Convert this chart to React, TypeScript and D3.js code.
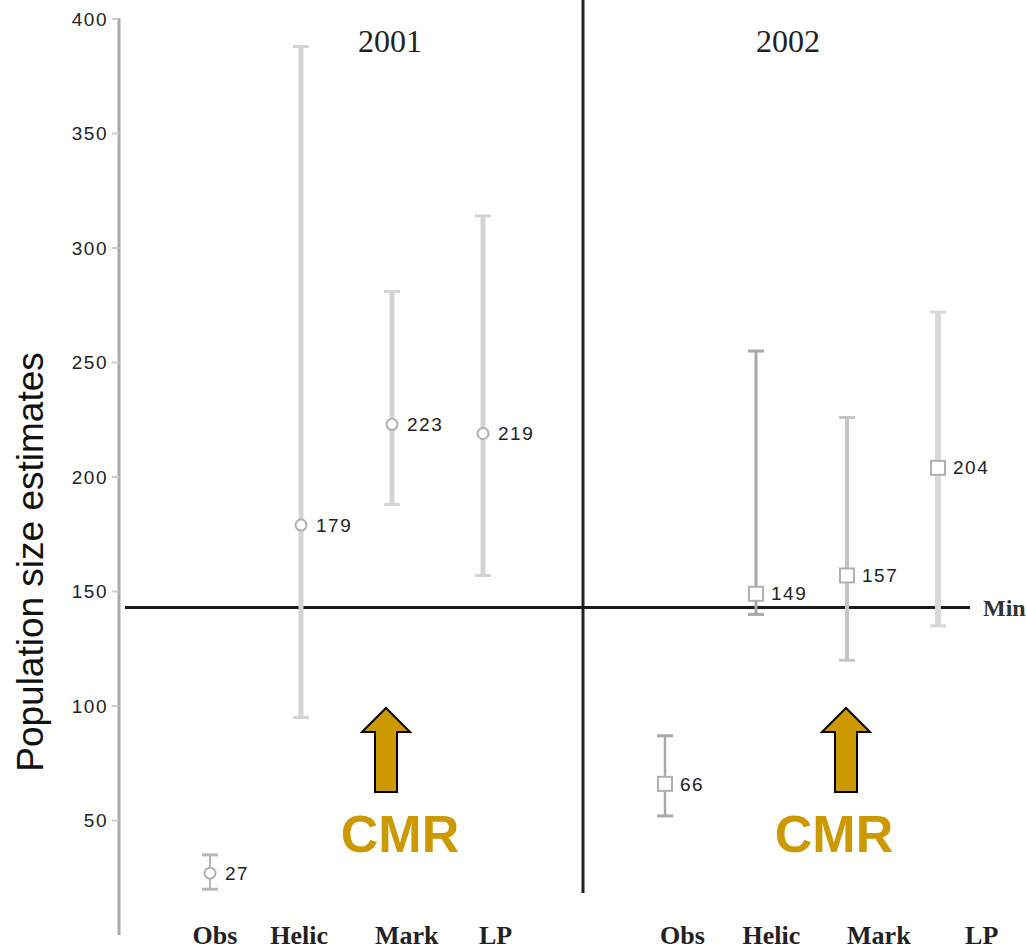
import React from "react";
import * as d3 from "d3";

// ---- data ----
const years = ["2001", "2002"];
const methods = ["Obs", "Helic", "Mark", "LP"];
const estimates2001 = [27, 179, 223, 219];
const lower2001 = [20, 95, 188, 157];
const upper2001 = [35, 388, 281, 314];
const estimates2002 = [66, 149, 157, 204];
const lower2002 = [52, 140, 120, 135];
const upper2002 = [87, 255, 226, 272];
const yTicks = [50, 100, 150, 200, 250, 300, 350, 400];
const minValue = 143;
const annotationText = "CMR";

// ---- styles ----
const W = 1026;
const H = 949;
const barStyles2001 = [
  { w: 2, c: "#b8b8b8" },
  { w: 5, c: "#d4d4d4" },
  { w: 5, c: "#d4d4d4" },
  { w: 5, c: "#d4d4d4" },
];
const barStyles2002 = [
  { w: 2.5, c: "#a8a8a8" },
  { w: 3, c: "#a8a8a8" },
  { w: 4, c: "#c4c4c4" },
  { w: 6, c: "#d8d8d8" },
];
const gold = "#CC9900";

export default function App() {
  const y = d3.scaleLinear().domain([0, 400]).range([935, 19]);
  // positions 0..3 for 2001, 5..8 for 2002
  const x = d3.scaleLinear().domain([0, 8]).range([210, 938]);
  const labelX = d3.scaleLinear().domain([0, 8]).range([215, 963]);

  const groups = [
    { year: years[0], est: estimates2001, lo: lower2001, hi: upper2001, styles: barStyles2001, offset: 0, marker: "circle" },
    { year: years[1], est: estimates2002, lo: lower2002, hi: upper2002, styles: barStyles2002, offset: 5, marker: "square" },
  ];

  const catLabelPos2001 = [0, 0.9, 2.05, 3.0];
  const catLabelPos2002 = [5, 5.95, 7.1, 8.2];

  const arrow = (cx: number) => {
    const tipY = 708;
    const headY = 732;
    const botY = 792;
    const hw = 24;
    const sw = 11;
    const pts = [
      [cx, tipY],
      [cx + hw, headY],
      [cx + sw, headY],
      [cx + sw, botY],
      [cx - sw, botY],
      [cx - sw, headY],
      [cx - hw, headY],
    ];
    return pts.map((p) => p.join(",")).join(" ");
  };

  return (
    <svg
      width={W}
      height={H}
      style={{ position: "absolute", left: 0, top: 0, background: "#fff" }}
      fontFamily="Liberation Sans, Arial, sans-serif"
    >
      <rect width={W} height={H} fill="#fff" />
      {/* y axis */}
      <line x1={119} x2={119} y1={y(400) - 1} y2={y(0)} stroke="#aaa" strokeWidth={3} />
      {yTicks.map((t) => (
        <g key={t}>
          <line x1={112} x2={119} y1={y(t)} y2={y(t)} stroke="#ccc" strokeWidth={2} />
          <text
            x={108}
            y={y(t)}
            dy="0.35em"
            textAnchor="end"
            fontSize={19}
            letterSpacing={1.5}
            fill="#222"
          >
            {t}
          </text>
        </g>
      ))}
      <text
        transform={`translate(43,562) rotate(-90)`}
        textAnchor="middle"
        fontSize={37}
        fill="#111"
      >
        Population size estimates
      </text>

      {/* divider */}
      <line x1={583} x2={583} y1={0} y2={893} stroke="#222" strokeWidth={3} />
      {/* min line */}
      <line x1={125} x2={970} y1={y(minValue)} y2={y(minValue)} stroke="#1a1a1a" strokeWidth={3} />
      <text x={983} y={y(minValue)} dy="0.35em" fontFamily="Liberation Serif, Times New Roman, serif" fontWeight="bold" fontSize={24} fill="#333">
        Min
      </text>

      {/* year titles */}
      <text x={390} y={52} textAnchor="middle" fontFamily="Liberation Serif, Times New Roman, serif" fontSize={32} fill="#222">
        {years[0]}
      </text>
      <text x={788} y={52} textAnchor="middle" fontFamily="Liberation Serif, Times New Roman, serif" fontSize={32} fill="#222">
        {years[1]}
      </text>

      {/* error bars and points */}
      {groups.map((g) =>
        g.est.map((v, i) => {
          const cx = x(g.offset + i);
          const st = g.styles[i];
          return (
            <g key={g.year + i}>
              <line x1={cx} x2={cx} y1={y(g.hi[i])} y2={y(g.lo[i])} stroke={st.c} strokeWidth={st.w} />
              <line x1={cx - 8} x2={cx + 8} y1={y(g.hi[i])} y2={y(g.hi[i])} stroke={st.c} strokeWidth={3} />
              <line x1={cx - 8} x2={cx + 8} y1={y(g.lo[i])} y2={y(g.lo[i])} stroke={st.c} strokeWidth={3} />
              {g.marker === "circle" ? (
                <circle cx={cx} cy={y(v)} r={5.5} fill="#fff" stroke="#b0b0b0" strokeWidth={2} />
              ) : (
                <rect x={cx - 7} y={y(v) - 7} width={14} height={14} fill="#fff" stroke="#b0b0b0" strokeWidth={2} />
              )}
              <text x={cx + 15} y={y(v)} dy="0.35em" fontSize={19} letterSpacing={1.5} fill="#222">
                {v}
              </text>
            </g>
          );
        })
      )}

      {/* category labels */}
      {methods.map((m, i) => (
        <g key={m}>
          <text x={labelX(catLabelPos2001[i])} y={944} textAnchor="middle" fontFamily="Liberation Serif, Times New Roman, serif" fontWeight="bold" fontSize={26} fill="#222">
            {m}
          </text>
          <text x={labelX(catLabelPos2002[i])} y={944} textAnchor="middle" fontFamily="Liberation Serif, Times New Roman, serif" fontWeight="bold" fontSize={26} fill="#222">
            {m}
          </text>
        </g>
      ))}

      {/* CMR annotations */}
      {[2, 7].map((idx, k) => {
        const ax = x(idx) - (k === 0 ? 6 : 1);
        const tx = k === 0 ? 400 : 834;
        return (
          <g key={idx}>
            <polygon points={arrow(ax)} fill={gold} stroke="#000" strokeWidth={2} />
            <text x={tx} y={852} textAnchor="middle" fontWeight="bold" fontSize={52} fill={gold}>
              {annotationText}
            </text>
          </g>
        );
      })}
    </svg>
  );
}
